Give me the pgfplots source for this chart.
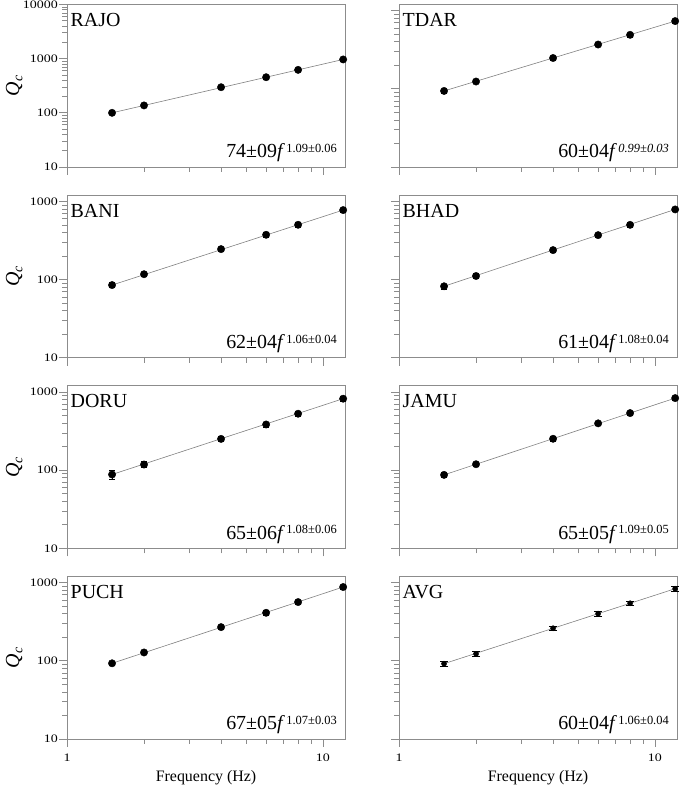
\documentclass[border=0pt]{standalone}
\usepackage{fontspec}
\setmainfont{Liberation Serif}
\newfontfamily\tickfont[FakeStretch=1.22]{Liberation Serif}
\usepackage{pgfplots}
\pgfplotsset{compat=1.18}
\definecolor{axgray}{gray}{0.55}
\newcommand{\stname}[1]{\node[anchor=base west, inner sep=0pt, font=\fontsize{20}{24}\selectfont] at (rel axis cs:0.0126,0.8646) {#1};}
\newcommand{\fitlab}[2]{\node[anchor=base east, inner sep=0pt, font=\fontsize{20}{24}\selectfont] at (rel axis cs:0.9712,0.0554) {#1\textit{f}\kern1.5pt\raisebox{5.5pt}{\fontsize{12.5}{14}\selectfont #2}};}
\newcommand{\qclab}{\node[rotate=90, font=\fontsize{20}{24}\selectfont] at (rel axis cs:-0.19,0.5) {\itshape Q\textsubscript{c}};}
\newcommand{\freqlab}{\node[anchor=base, font=\fontsize{16}{18}\selectfont] at (rel axis cs:0.5,-0.2646) {Frequency (Hz)};}
\begin{document}
\begin{tikzpicture}
\useasboundingbox (-67bp,-49bp) rectangle (618bp,739bp);
% RAJO
\begin{loglogaxis}[at={(0bp,572bp)}, anchor=south west, scale only axis, width=278bp, height=162.5bp,
  xmin=1, xmax=12.2, ymin=10, ymax=10000, clip=false,
  axis line style={draw=axgray, line width=0.7pt}, tick style={draw=axgray, line width=0.7pt},
  tick align=outside, xtick pos=left, ytick pos=left, major tick length=8bp, minor tick length=5bp,
  xtick={1,10}, xticklabels={}, ytick={10,100,1000,10000}, yticklabels={10,100,1000,10000},
  yticklabel style={font=\tickfont\fontsize{11.5}{12}\selectfont, inner sep=1bp}]
\addplot[draw=gray, line width=0.6pt, no marks] coordinates {(1.5,100) (12,967)};
\addplot[only marks, mark=*, mark size=3.7bp, mark options={fill=black, draw=black}, error bars/y dir=both, error bars/y explicit, error bars/error bar style={black, line width=0.6pt}, error bars/error mark options={rotate=90, black, mark size=3bp, line width=0.6pt}] coordinates {(1.5,100) +- (0,7) (2,137) +- (0,9) (4,297) +- (0,20) (6,454) +- (0,30) (8,621) +- (0,40) (12,967) +- (0,60)};
\stname{RAJO}
\fitlab{74±09}{1.09±0.06}
\qclab
\end{loglogaxis}
% TDAR
\begin{loglogaxis}[at={(332bp,572bp)}, anchor=south west, scale only axis, width=278bp, height=162.5bp,
  xmin=1, xmax=12.2, ymin=10, ymax=1200, clip=false,
  axis line style={draw=axgray, line width=0.7pt}, tick style={draw=axgray, line width=0.7pt},
  tick align=outside, xtick pos=left, ytick pos=left, major tick length=8bp, minor tick length=5bp,
  xtick={1,10}, xticklabels={}, ytick={10,100,1000}, yticklabels={}]
\addplot[draw=gray, line width=0.6pt, no marks] coordinates {(1.5,94) (12,736)};
\addplot[only marks, mark=*, mark size=3.7bp, mark options={fill=black, draw=black}, error bars/y dir=both, error bars/y explicit, error bars/error bar style={black, line width=0.6pt}, error bars/error mark options={rotate=90, black, mark size=3bp, line width=0.6pt}] coordinates {(1.5,94) +- (0,6) (2,124) +- (0,8) (4,248) +- (0,15) (6,369) +- (0,22) (8,491) +- (0,30) (12,736) +- (0,45)};
\stname{TDAR}
\node[anchor=base east, inner sep=0pt, font=\fontsize{20}{24}\selectfont] at (rel axis cs:0.9712,0.0554) {60±04\textit{f}\kern1.5pt\raisebox{5.5pt}{\fontsize{12.5}{14}\selectfont\itshape 0.99±0.03}};
\end{loglogaxis}
% BANI
\begin{loglogaxis}[at={(0bp,381.3bp)}, anchor=south west, scale only axis, width=278bp, height=162.5bp,
  xmin=1, xmax=12.2, ymin=10, ymax=1200, clip=false,
  axis line style={draw=axgray, line width=0.7pt}, tick style={draw=axgray, line width=0.7pt},
  tick align=outside, xtick pos=left, ytick pos=left, major tick length=8bp, minor tick length=5bp,
  xtick={1,10}, xticklabels={}, ytick={10,100,1000}, yticklabels={10,100,1000},
  yticklabel style={font=\tickfont\fontsize{11.5}{12}\selectfont, inner sep=1bp}]
\addplot[draw=gray, line width=0.6pt, no marks] coordinates {(1.5,85) (12,774)};
\addplot[only marks, mark=*, mark size=3.7bp, mark options={fill=black, draw=black}, error bars/y dir=both, error bars/y explicit, error bars/error bar style={black, line width=0.6pt}, error bars/error mark options={rotate=90, black, mark size=3bp, line width=0.6pt}] coordinates {(1.5,85) +- (0,6) (2,117) +- (0,8) (4,245) +- (0,16) (6,374) +- (0,24) (8,502) +- (0,32) (12,774) +- (0,50)};
\stname{BANI}
\fitlab{62±04}{1.06±0.04}
\qclab
\end{loglogaxis}
% BHAD
\begin{loglogaxis}[at={(332bp,381.3bp)}, anchor=south west, scale only axis, width=278bp, height=162.5bp,
  xmin=1, xmax=12.2, ymin=10, ymax=1200, clip=false,
  axis line style={draw=axgray, line width=0.7pt}, tick style={draw=axgray, line width=0.7pt},
  tick align=outside, xtick pos=left, ytick pos=left, major tick length=8bp, minor tick length=5bp,
  xtick={1,10}, xticklabels={}, ytick={10,100,1000}, yticklabels={}]
\addplot[draw=gray, line width=0.6pt, no marks] coordinates {(1.5,82) (12,789)};
\addplot[only marks, mark=*, mark size=3.7bp, mark options={fill=black, draw=black}, error bars/y dir=both, error bars/y explicit, error bars/error bar style={black, line width=0.6pt}, error bars/error mark options={rotate=90, black, mark size=3bp, line width=0.6pt}] coordinates {(1.5,82) +- (0,6) (2,111) +- (0,8) (4,238) +- (0,16) (6,370) +- (0,24) (8,501) +- (0,32) (12,789) +- (0,50)};
\stname{BHAD}
\fitlab{61±04}{1.08±0.04}
\end{loglogaxis}
% DORU
\begin{loglogaxis}[at={(0bp,190.7bp)}, anchor=south west, scale only axis, width=278bp, height=162.5bp,
  xmin=1, xmax=12.2, ymin=10, ymax=1200, clip=false,
  axis line style={draw=axgray, line width=0.7pt}, tick style={draw=axgray, line width=0.7pt},
  tick align=outside, xtick pos=left, ytick pos=left, major tick length=8bp, minor tick length=5bp,
  xtick={1,10}, xticklabels={}, ytick={10,100,1000}, yticklabels={10,100,1000},
  yticklabel style={font=\tickfont\fontsize{11.5}{12}\selectfont, inner sep=1bp}]
\addplot[draw=gray, line width=0.6pt, no marks] coordinates {(1.5,88) (12,821)};
\addplot[only marks, mark=*, mark size=3.7bp, mark options={fill=black, draw=black}, error bars/y dir=both, error bars/y explicit, error bars/error bar style={black, line width=0.6pt}, error bars/error mark options={rotate=90, black, mark size=3bp, line width=0.6pt}] coordinates {(1.5,88) +- (0,12) (2,118) +- (0,10) (4,251) +- (0,20) (6,384) +- (0,30) (8,527) +- (0,40) (12,821) +- (0,60)};
\stname{DORU}
\fitlab{65±06}{1.08±0.06}
\qclab
\end{loglogaxis}
% JAMU
\begin{loglogaxis}[at={(332bp,190.7bp)}, anchor=south west, scale only axis, width=278bp, height=162.5bp,
  xmin=1, xmax=12.2, ymin=10, ymax=1200, clip=false,
  axis line style={draw=axgray, line width=0.7pt}, tick style={draw=axgray, line width=0.7pt},
  tick align=outside, xtick pos=left, ytick pos=left, major tick length=8bp, minor tick length=5bp,
  xtick={1,10}, xticklabels={}, ytick={10,100,1000}, yticklabels={}]
\addplot[draw=gray, line width=0.6pt, no marks] coordinates {(1.5,87) (12,835)};
\addplot[only marks, mark=*, mark size=3.7bp, mark options={fill=black, draw=black}, error bars/y dir=both, error bars/y explicit, error bars/error bar style={black, line width=0.6pt}, error bars/error mark options={rotate=90, black, mark size=3bp, line width=0.6pt}] coordinates {(1.5,87) +- (0,6) (2,119) +- (0,8) (4,252) +- (0,16) (6,397) +- (0,25) (8,537) +- (0,34) (12,835) +- (0,52)};
\stname{JAMU}
\fitlab{65±05}{1.09±0.05}
\end{loglogaxis}
% PUCH
\begin{loglogaxis}[at={(0bp,0bp)}, anchor=south west, scale only axis, width=278bp, height=162.5bp,
  xmin=1, xmax=12.2, ymin=10, ymax=1200, clip=false,
  axis line style={draw=axgray, line width=0.7pt}, tick style={draw=axgray, line width=0.7pt},
  tick align=outside, xtick pos=left, ytick pos=left, major tick length=8bp, minor tick length=5bp,
  xtick={1,10}, xticklabels={1,10}, ytick={10,100,1000}, yticklabels={10,100,1000},
  xticklabel style={font=\tickfont\fontsize{11.5}{12}\selectfont, inner sep=0pt, yshift=-7bp},
  yticklabel style={font=\tickfont\fontsize{11.5}{12}\selectfont, inner sep=1bp}]
\addplot[draw=gray, line width=0.6pt, no marks] coordinates {(1.5,93) (12,880)};
\addplot[only marks, mark=*, mark size=3.7bp, mark options={fill=black, draw=black}, error bars/y dir=both, error bars/y explicit, error bars/error bar style={black, line width=0.6pt}, error bars/error mark options={rotate=90, black, mark size=3bp, line width=0.6pt}] coordinates {(1.5,93) +- (0,6) (2,128) +- (0,8) (4,270) +- (0,17) (6,412) +- (0,26) (8,565) +- (0,35) (12,880) +- (0,55)};
\stname{PUCH}
\fitlab{67±05}{1.07±0.03}
\qclab
\freqlab
\end{loglogaxis}
% AVG
\begin{loglogaxis}[at={(332bp,0bp)}, anchor=south west, scale only axis, width=278bp, height=162.5bp,
  xmin=1, xmax=12.2, ymin=10, ymax=1200, clip=false,
  axis line style={draw=axgray, line width=0.7pt}, tick style={draw=axgray, line width=0.7pt},
  tick align=outside, xtick pos=left, ytick pos=left, major tick length=8bp, minor tick length=5bp,
  xtick={1,10}, xticklabels={1,10}, ytick={10,100,1000}, yticklabels={},
  xticklabel style={font=\tickfont\fontsize{11.5}{12}\selectfont, inner sep=0pt, yshift=-7bp}]
\addplot[draw=gray, line width=0.6pt, no marks] coordinates {(1.5,92) (12,838)};
\addplot[only marks, mark=*, mark size=2.6bp, mark options={fill=black, draw=black}, error bars/y dir=both, error bars/y explicit, error bars/error bar style={black, line width=0.6pt}, error bars/error mark options={rotate=90, black, mark size=4bp, line width=0.6pt}] coordinates {(1.5,92) +- (0,6) (2,123) +- (0,8) (4,261) +- (0,16) (6,402) +- (0,25) (8,545) +- (0,34) (12,838) +- (0,52)};
\stname{AVG}
\fitlab{60±04}{1.06±0.04}
\freqlab
\end{loglogaxis}
\end{tikzpicture}
\end{document}
